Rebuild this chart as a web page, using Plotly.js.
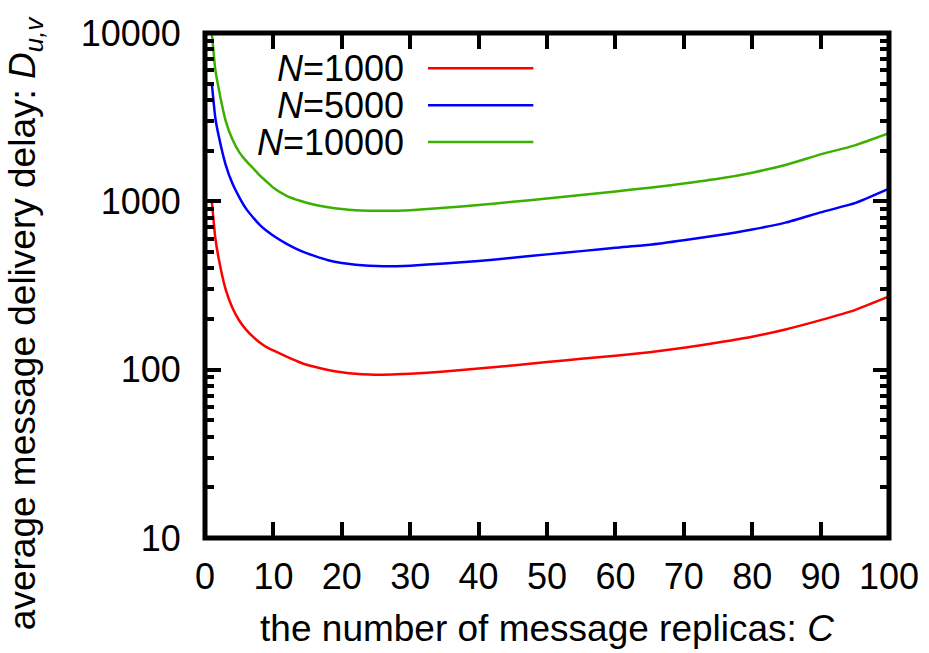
<!DOCTYPE html>
<html>
<head>
<meta charset="utf-8">
<script src="https://cdn.plot.ly/plotly-3.0.1.min.js"></script>
<style>
  html, body { margin: 0; padding: 0; background: #fff; }
  #chart { width: 929px; height: 653px; }
</style>
</head>
<body>
<div id="chart"></div>
<script>
// ---- data ----
const replicas = [1,1.5,2,3,4,5,6,7,8,9,10,12,14,16,18,20,22,24,26,28,30,35,40,45,50,55,60,65,70,75,80,85,90,95,100];
const delayN1000 = [1000,610,458,302,233,196,173,157,145,136,130,119,110,104,99.5,96.5,94.5,93.5,93.3,93.8,94.6,97.5,101.5,106,111,116,121,127,135,145,157,174,197,226,272];
const delayN5000 = [5000,3150,2450,1660,1280,1060,905,805,725,668,625,557,508,474,447,430,420,414,411,412,415,427,442,462,484,506,530,552,587,628,680,750,860,975,1190];
const delayN10000 = [10000,6100,4680,3030,2335,1960,1740,1578,1425,1310,1205,1075,1005,955,922,900,886,880,878,880,886,915,950,993,1040,1090,1145,1205,1275,1360,1480,1650,1900,2150,2540];

const seriesNames = ["<i>N</i>=1000", "<i>N</i>=5000", "<i>N</i>=10000"];
const seriesColors = ["#ff0000", "#0000ff", "#3cb000"];
const seriesValues = [delayN1000, delayN5000, delayN10000];

const xTickVals = [0,10,20,30,40,50,60,70,80,90,100];
const yTickVals = [10,100,1000,10000];
const yTickText = ["10","100","1000","10000"];
const yMinorVals = [20,30,40,50,60,70,80,90,200,300,400,500,600,700,800,900,2000,3000,4000,5000,6000,7000,8000,9000];

const xTitle = "the number of message replicas: <i>C</i>";
const yTitle = "average message delivery delay: <i>D</i><sub><i>u,v</i></sub>";

const FONT = "Liberation Sans, Arial, Helvetica, sans-serif";

const traces = seriesValues.map((vals, i) => ({
  x: replicas,
  y: vals,
  type: "scatter",
  mode: "lines",
  name: seriesNames[i],
  line: { color: seriesColors[i], width: 2.5, shape: "spline", smoothing: 0.5 },
  hoverinfo: "skip",
  showlegend: false
}));

// custom legend: text on the left, sample line on the right (as in the reference)
const legendY = [0.930, 0.857, 0.784];
const annotations = seriesNames.map((name, i) => ({
  xref: "paper", yref: "paper",
  x: 0.2935, y: legendY[i],
  xanchor: "right", yanchor: "middle",
  text: name, showarrow: false,
  font: { family: FONT, size: 36, color: "#000" }
}));
annotations.push({
  xref: "paper", yref: "paper",
  x: -0.262, y: 0.427,
  xanchor: "center", yanchor: "middle",
  textangle: -90,
  text: yTitle, showarrow: false,
  font: { family: FONT, size: 37, color: "#000" }
});

const shapes = seriesColors.map((c, i) => ({
  type: "line", xref: "paper", yref: "paper",
  x0: 0.326, x1: 0.480, y0: legendY[i], y1: legendY[i],
  line: { color: c, width: 2.5 }
}));
// plot frame
shapes.push({
  type: "rect", xref: "paper", yref: "paper",
  x0: 0, x1: 1, y0: 0, y1: 1,
  line: { color: "#000", width: 5 }, layer: "above"
});

const layout = {
  width: 929, height: 653,
  margin: { l: 205, r: 40, t: 33, b: 115, pad: 0 },
  paper_bgcolor: "#fff", plot_bgcolor: "#fff",
  font: { family: FONT, size: 36, color: "#000" },
  showlegend: false,
  xaxis: {
    range: [0, 100],
    tickmode: "array", tickvals: xTickVals,
    ticks: "inside", ticklen: 16, tickwidth: 4, tickcolor: "#000",
    showline: true, linecolor: "rgba(0,0,0,0)", linewidth: 1,
    mirror: "allticks",
    showgrid: false, zeroline: false,
    ticklabelstandoff: 7,
    tickfont: { family: FONT, size: 36, color: "#000" },
    title: { text: xTitle, standoff: 18, font: { family: FONT, size: 37, color: "#000" } }
  },
  yaxis: {
    type: "log",
    range: [1, 4],
    tickmode: "array", tickvals: yTickVals, ticktext: yTickText,
    ticks: "inside", ticklen: 16, tickwidth: 4, tickcolor: "#000",
    minor: { tickmode: "array", tickvals: yMinorVals, ticks: "inside", ticklen: 9, tickwidth: 4, tickcolor: "#000", showgrid: false },
    showline: true, linecolor: "rgba(0,0,0,0)", linewidth: 1,
    mirror: "allticks",
    showgrid: false, zeroline: false,
    ticklabelstandoff: 16,
    tickfont: { family: FONT, size: 36, color: "#000" }
  },
  annotations: annotations,
  shapes: shapes
};

Plotly.newPlot("chart", traces, layout, { staticPlot: true, displayModeBar: false });
</script>
</body>
</html>
